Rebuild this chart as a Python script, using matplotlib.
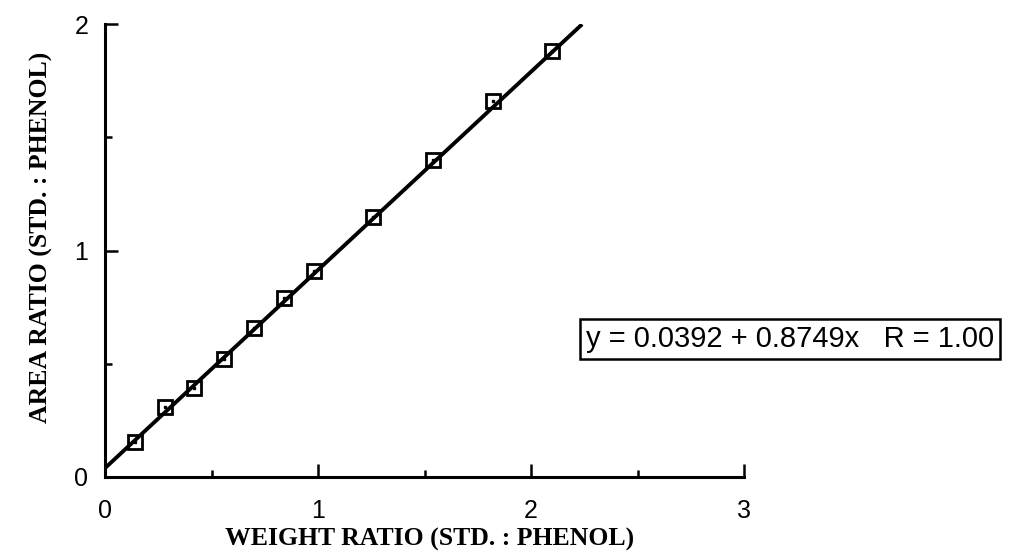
import matplotlib
matplotlib.use("Agg")
import matplotlib.pyplot as plt
import numpy as np

# data
weight_ratio = [0.14, 0.28, 0.42, 0.56, 0.70, 0.84, 0.98, 1.26, 1.54, 1.82, 2.10]
area_ratio = [0.155, 0.31, 0.395, 0.52, 0.66, 0.79, 0.91, 1.15, 1.40, 1.66, 1.88]
fit_intercept = 0.0392
fit_slope = 0.8749
fit_r = 1.00
fit_x_range = [0.0, 2.24]
x_ticks = [0, 1, 2, 3]
y_ticks = [0, 1, 2]
x_label = "WEIGHT RATIO (STD. : PHENOL)"
y_label = "AREA RATIO (STD. : PHENOL)"
eq_text = f"y = {fit_intercept:.4f} + {fit_slope:.4f}x   R = {fit_r:.2f}"

W, H = 1010, 553
fig = plt.figure(figsize=(W / 100, H / 100), dpi=100)
ax = fig.add_axes([105 / W, 1 - 477 / H, (744 - 105) / W, (477 - 24) / H])

sans = "Liberation Sans"
serif = "Liberation Serif"

fx = np.array(fit_x_range)
ax.plot(fx, fit_intercept + fit_slope * fx, color="black", lw=2.8, solid_capstyle="butt", zorder=2)
ax.plot(weight_ratio, area_ratio, ls="none", marker="s", ms=10, mfc="none", mec="black", mew=2.0, zorder=3)
ax.plot(weight_ratio, area_ratio, ls="none", marker="s", ms=2.0, mfc="black", mec="black", zorder=4)

ax.set_xlim(0, 3)
ax.set_ylim(0, 2)
for s in ["top", "right"]:
    ax.spines[s].set_visible(False)
for s in ["left", "bottom"]:
    ax.spines[s].set_linewidth(2.2)

ax.set_xticks(x_ticks)
ax.set_yticks(y_ticks)
ax.set_xticks(np.arange(0.5, 3, 1.0), minor=True)
ax.set_yticks(np.arange(0.5, 2, 1.0), minor=True)
ax.tick_params(axis="both", which="major", direction="in", length=9.5, width=1.8, labelsize=18)
ax.tick_params(axis="both", which="minor", direction="in", length=5, width=1.8)
ax.tick_params(axis="x", which="major", pad=15.5)
ax.tick_params(axis="y", which="major", pad=12)
for lab in ax.get_xticklabels() + ax.get_yticklabels():
    lab.set_fontfamily(sans)

ax.set_xlabel(x_label, fontfamily=serif, fontsize=18.5, fontweight="bold")
ax.xaxis.set_label_coords((430 - 105) / (744 - 105), -0.112)
ax.set_ylabel(y_label, fontfamily=serif, fontsize=18.5, fontweight="bold", va="center")
ax.yaxis.set_label_coords(-0.099, 0.53)

fig.text(586 / W, 1 - 339 / H, eq_text, fontfamily=sans, fontsize=21,
         ha="left", va="center",
         bbox=dict(boxstyle="square,pad=0.2", fc="white", ec="black", lw=1.8))

fig.savefig("out.png", dpi=100)
